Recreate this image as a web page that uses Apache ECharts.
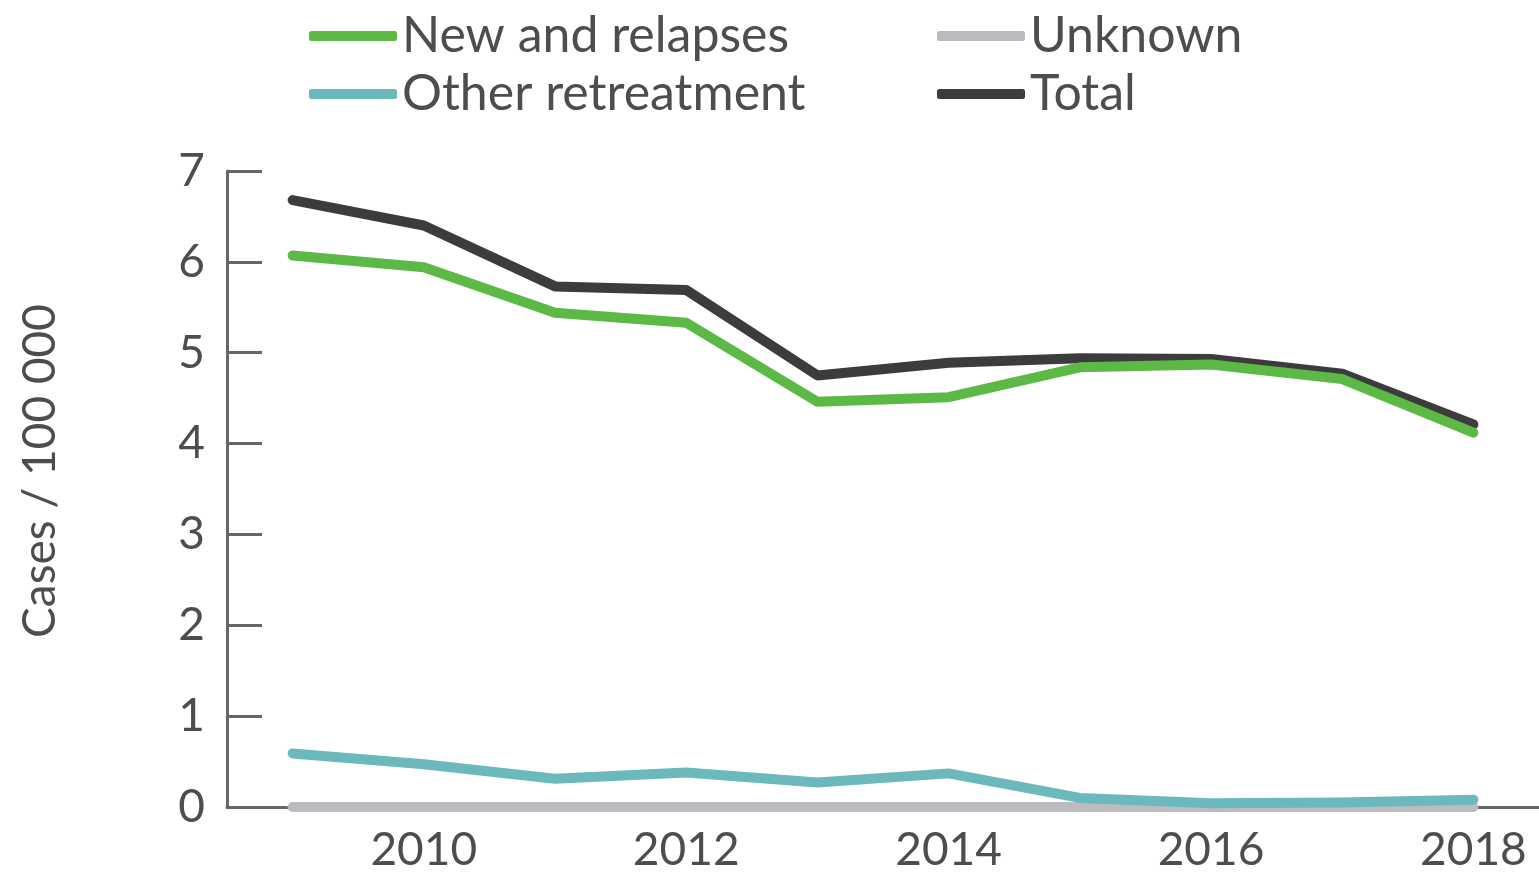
<!DOCTYPE html>
<html><head><meta charset="utf-8">
<script src="https://cdn.jsdelivr.net/npm/echarts@6/dist/echarts.min.js"></script>
<style>html,body{margin:0;padding:0;background:#fff}#c{width:1539px;height:873px}</style>
</head><body><div id="c"></div>
<script>
const years = ['2009','2010','2011','2012','2013','2014','2015','2016','2017','2018'];
const newRelapses = [6.07, 5.94, 5.44, 5.33, 4.46, 4.51, 4.84, 4.87, 4.71, 4.12];
const otherRetreatment = [0.59, 0.47, 0.31, 0.38, 0.27, 0.37, 0.10, 0.04, 0.05, 0.08];
const unknown = [0, 0, 0, 0, 0, 0, 0, 0, 0, 0];
const total = [6.68, 6.40, 5.73, 5.69, 4.75, 4.89, 4.94, 4.93, 4.77, 4.21];
const yTicks = [0, 7, 1];

const FONT = 'Lato';
const TXT = '#4d4d4d';
const AX = '#666666';
const C = {green:'#5cb946', teal:'#6cb9bd', grey:'#bcbcc0', dark:'#3c3c3c'};

const chart = echarts.init(document.getElementById('c'), null, {renderer:'canvas'});
function line(name, data, color, z) {
  return {name, type:'line', data, symbol:'none', z,
    lineStyle:{color, width:10, cap:'round', join:'round'},
    itemStyle:{color}, emphasis:{disabled:true}};
}
const legendCommon = {orient:'vertical', icon:'roundRect', itemWidth:88, itemHeight:10,
  itemGap:8, top:6, textStyle:{fontFamily:FONT, fontSize:50, color:TXT}, selectedMode:false};
chart.setOption({
  animation:false,
  legend:[
    Object.assign({left:304, data:['New and relapses','Other retreatment']}, legendCommon),
    Object.assign({left:932, data:['Unknown','Total']}, legendCommon)
  ],
  grid:{left:227, top:171, width:1317, height:638, containLabel:false},
  xAxis:{type:'category', data:years, boundaryGap:true,
    axisLine:{lineStyle:{color:AX, width:3}},
    axisTick:{inside:true, length:10, interval:0, lineStyle:{color:AX, width:2}},
    axisLabel:{interval:(i)=>i%2===1, margin:20, fontFamily:FONT, fontSize:46, color:TXT}},
  yAxis:{type:'value', min:yTicks[0], max:yTicks[1], interval:yTicks[2],
    name:'Cases / 100 000', nameLocation:'middle', nameGap:164,
    nameTextStyle:{fontFamily:FONT, fontSize:46, color:TXT, padding:[0,0,0,36]},
    splitLine:{show:false},
    axisLine:{show:true, lineStyle:{color:AX, width:3}},
    axisTick:{show:true, inside:true, length:35, lineStyle:{color:AX, width:3}},
    axisLabel:{margin:22, fontFamily:FONT, fontSize:46, color:TXT}},
  series:[
    line('Unknown', unknown, C.grey, 1),
    line('Other retreatment', otherRetreatment, C.teal, 2),
    line('Total', total, C.dark, 3),
    line('New and relapses', newRelapses, C.green, 4)
  ]
});
</script></body></html>
